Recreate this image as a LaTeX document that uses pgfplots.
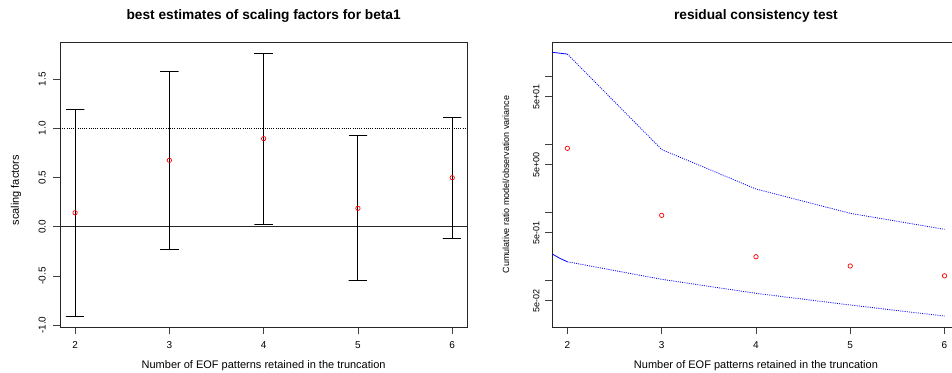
\documentclass[border=0pt]{standalone}
\usepackage{pgfplots}
\pgfplotsset{compat=1.18}
\usepackage{fontspec}
\setmainfont{Liberation Sans}
\begin{document}
\begin{tikzpicture}[x=1pt,y=1pt]
\pgfplotsset{
  rbase/.style={
    scale only axis, width=407.3pt, height=285pt,
    anchor=north west,
    axis line style={black!85, line width=0.8pt},
    tick style={black!75, line width=0.8pt},
    tick align=outside, major tick length=7pt,
    tick pos=left,
    xmin=1.84, xmax=6.16,
    xtick={2,3,4,5,6}, xticklabels={2,3,4,5,6},
    xticklabel style={anchor=base, font=\fontsize{10}{12}\selectfont},
    xticklabel shift=14.3pt,
    yticklabel style={rotate=90, anchor=base},
    title style={at={(axis description cs:0.5,1)}, anchor=base, yshift=17pt, font=\bfseries\fontsize{13.7}{16}\selectfont},
    xlabel style={at={(axis description cs:0.5,0)}, anchor=base, yshift=-41.5pt, font=\fontsize{11}{13}\selectfont},
    xlabel={Number of EOF patterns retained in the truncation},
  },
  rdot/.style={dash pattern=on 1pt off 1.2pt, line width=0.8pt},
}
% ---------------- left panel ----------------
\begin{axis}[rbase,
  at={(60pt,-42pt)},
  ymin=-1.019, ymax=1.877,
  ytick={-1,-0.5,0,0.5,1,1.5},
  yticklabels={-1.0,-0.5,0.0,0.5,1.0,1.5},
  yticklabel style={font=\fontsize{10}{12}\selectfont},
  yticklabel shift=7.5pt,
  title={best estimates of scaling factors for beta1},
  ylabel={scaling factors},
  ylabel style={at={(axis description cs:-0.1007,0.48)}, anchor=base, font=\fontsize{11}{13}\selectfont},
  unbounded coords=jump,
]
\addplot[black, rdot] coordinates {(1.84,1) (6.16,1)};
\addplot[black!85, line width=0.8pt] coordinates {(1.84,0) (6.16,0)};
% confidence intervals: caps and whiskers
\addplot[black, line width=0.9pt] coordinates {
  (1.902,1.194) (2.098,1.194) (2,1.194) (2,-0.912) (1.902,-0.912) (2.098,-0.912) (2,nan)
  (2.902,1.581) (3.098,1.581) (3,1.581) (3,-0.230) (2.902,-0.230) (3.098,-0.230) (3,nan)
  (3.902,1.764) (4.098,1.764) (4,1.764) (4,0.024) (3.902,0.024) (4.098,0.024) (4,nan)
  (4.902,0.923) (5.098,0.923) (5,0.923) (5,-0.545) (4.902,-0.545) (5.098,-0.545) (5,nan)
  (5.902,1.113) (6.098,1.113) (6,1.113) (6,-0.115) (5.902,-0.115) (6.098,-0.115)
  };
\addplot[red, only marks, mark=o, mark size=2.2pt, mark options={line width=0.7pt}]
  coordinates {(2,0.142) (3,0.675) (4,0.895) (5,0.187) (6,0.498)};
\end{axis}
% ---------------- right panel ----------------
\begin{axis}[rbase,
  at={(552.3pt,-42pt)},
  ymode=log, ymin=0.02065, ymax=320.6,
  ytick={0.05,0.1,0.5,1,5,10,50,100},
  yticklabels={5e-02,,5e-01,,5e+00,,5e+01,},
  yminorticks=false,
  yticklabel style={font=\fontsize{9}{11}\selectfont},
  yticklabel shift=6pt,
  title={residual consistency test},
  ylabel={Cumulative ratio model/observation variance},
  ylabel style={at={(axis description cs:-0.1063,0.5)}, anchor=base, font=\fontsize{9}{11}\selectfont},
]
\addplot[blue, line width=0.8pt] coordinates {(1.84,226) (2,213)};
\addplot[blue, rdot] coordinates {(2,213) (3,8.41) (4,2.21) (5,0.970) (6,0.564)};
\addplot[blue, line width=0.8pt] coordinates {(1.84,0.2445) (1.92,0.2113) (2,0.188)};
\addplot[blue, rdot] coordinates {(2,0.188) (3,0.1038) (4,0.0646) (5,0.0435) (6,0.0299)};
\addplot[red, only marks, mark=o, mark size=2.2pt, mark options={line width=0.7pt}]
  coordinates {(2,8.76) (3,0.906) (4,0.223) (5,0.163) (6,0.117)};
\end{axis}
\pgfresetboundingbox
\path[use as bounding box] (0,0) rectangle (952,-372);
\end{tikzpicture}
\end{document}
